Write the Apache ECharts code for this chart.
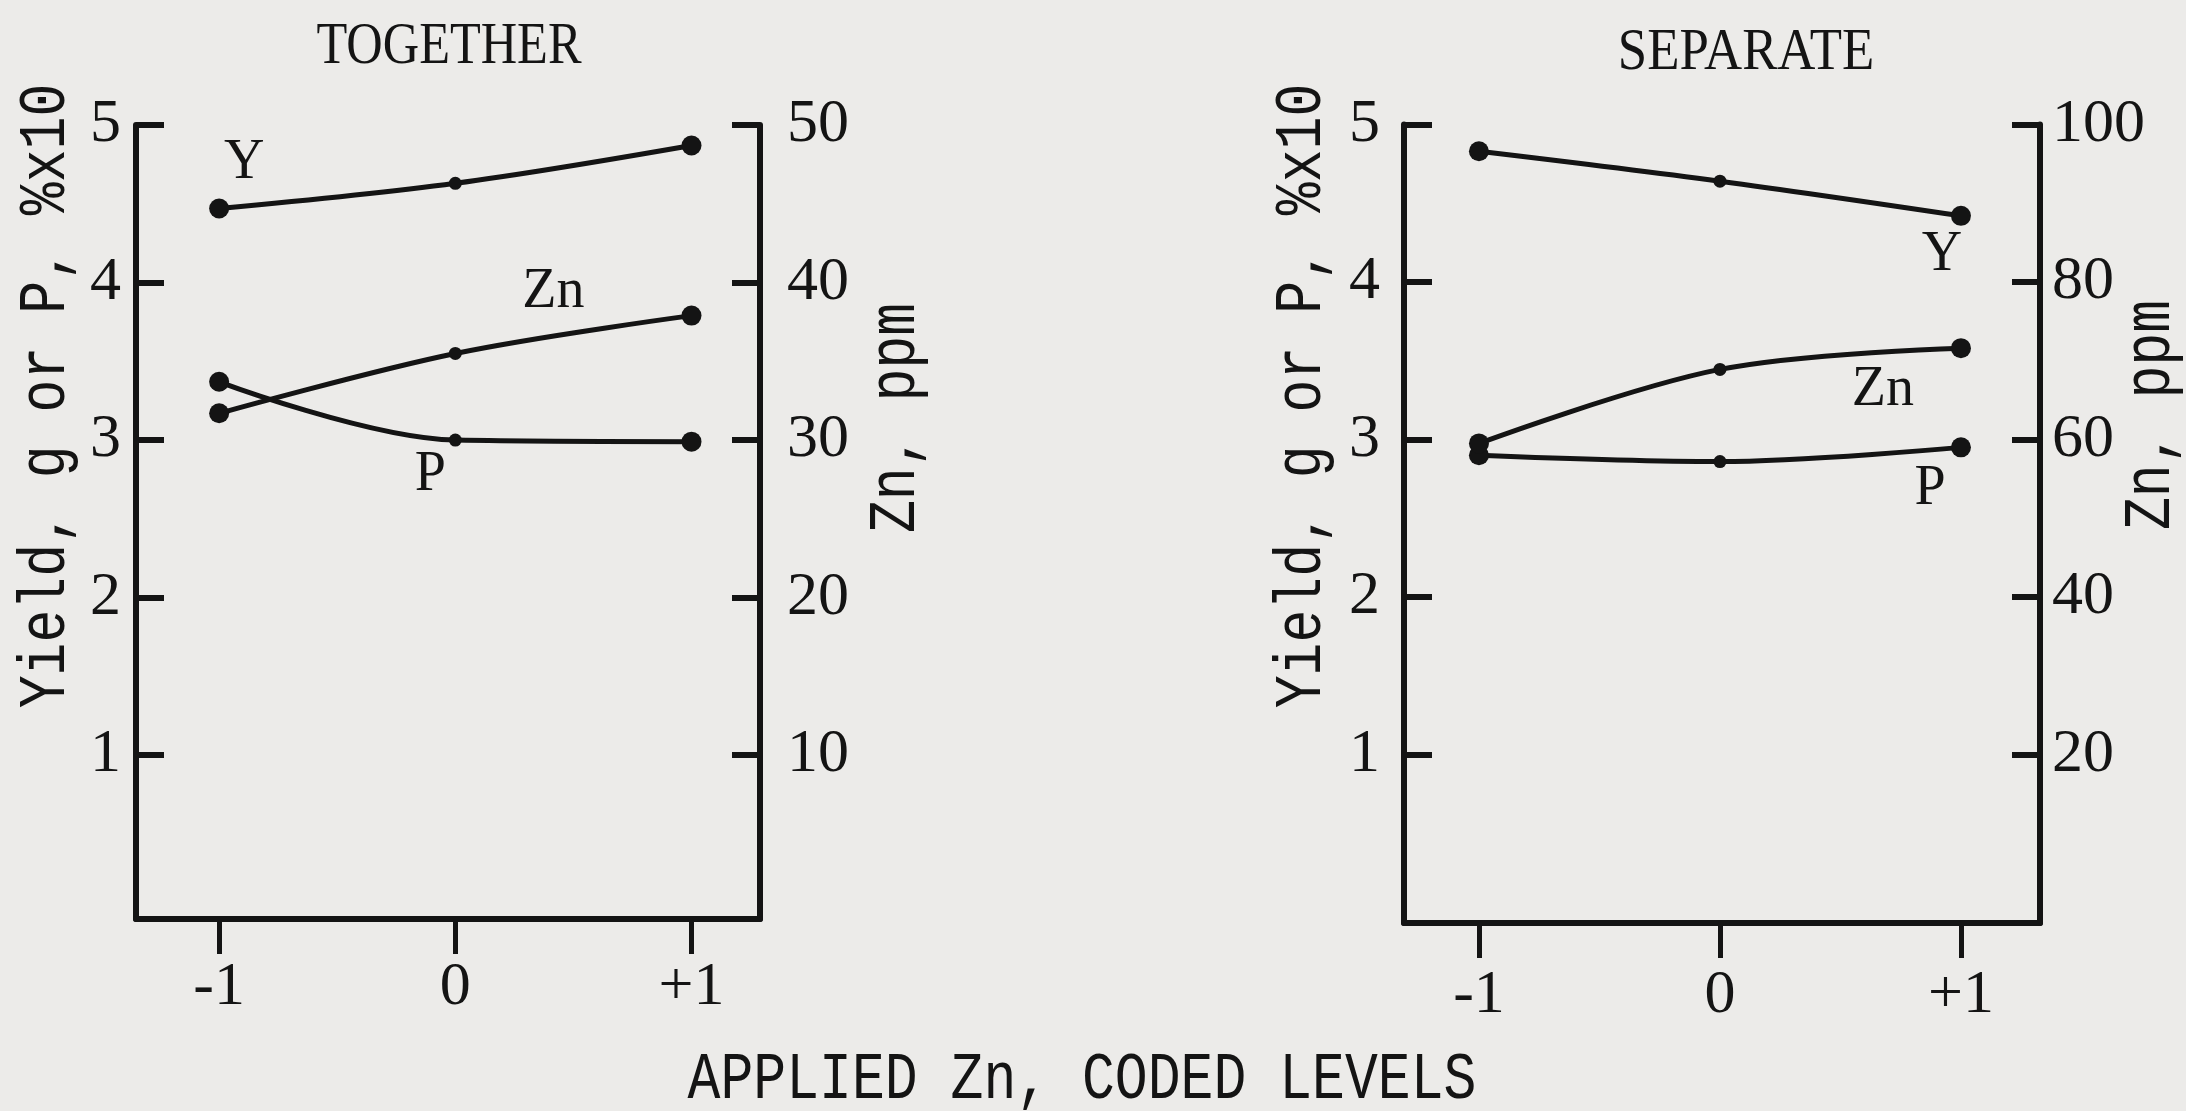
<!DOCTYPE html>
<html>
<head>
<meta charset="utf-8">
<script src="https://cdn.jsdelivr.net/npm/echarts@6/dist/echarts.min.js"></script>
<style>
html,body{margin:0;padding:0;background:#ecebe9;}
#chart{width:2186px;height:1111px;}
</style>
</head>
<body>
<div id="chart"></div>
<script>
// ---- data ----
const levels = [-1, 0, 1];
const levelLabels = ['-1', '0', '+1'];
const leftTicks = [1, 2, 3, 4, 5];
const togetherZnTicks = [10, 20, 30, 40, 50];
const separateZnTicks = [20, 40, 60, 80, 100];

// TOGETHER panel
const togetherYield = [4.47, 4.63, 4.87];   // Yield, g (left axis)
const togetherP = [3.37, 3.00, 2.99];       // P, %x10 (left axis)
const togetherZn = [31.7, 35.5, 37.9];      // Zn, ppm (right axis)

// SEPARATE panel
const separateYield = [4.83, 4.64, 4.42];
const separateP = [2.90, 2.86, 2.95];
const separateZn = [59.5, 68.9, 71.6];

const panelTitles = ['TOGETHER', 'SEPARATE'];
const leftAxisName = 'Yield, g or P, %x10';
const rightAxisName = 'Zn, ppm';
const xAxisName = 'APPLIED Zn, CODED LEVELS';

// ---- styling ----
const INK = '#141414';
const BG = '#ecebe9';
const MONO = '"Liberation Mono", "DejaVu Sans Mono", monospace';
const SERIF = '"Liberation Serif", "DejaVu Serif", serif';

function pts(vals) { return levels.map((x, i) => [x, vals[i]]); }
function withLabel(data, idx, text, dx, dy) {
  data[idx] = {
    value: data[idx],
    label: { show: true, formatter: text, position: 'inside', offset: [dx, dy],
             fontFamily: SERIF, fontSize: 56, color: INK }
  };
  return data;
}
const symSize = (v, p) => (p.dataIndex === 1 ? 13 : 20);
function lineSeries(name, xi, yi, data) {
  return {
    name, type: 'line', xAxisIndex: xi, yAxisIndex: yi, data,
    smooth: 0.35, symbol: 'circle', symbolSize: symSize,
    lineStyle: { color: INK, width: 5 },
    itemStyle: { color: INK },
    label: { show: false }, z: 5
  };
}

function yAxisCfg(grid, pos, min, max, ticks, margin, lift) {
  return {
    type: 'value', gridIndex: grid, position: pos, min, max,
    axisLine: { show: true, onZero: false, lineStyle: { color: INK, width: 6 } },
    axisTick: { show: true, inside: true, length: 28, lineStyle: { color: INK, width: 6 }, customValues: ticks },
    axisLabel: { show: true, customValues: ticks, margin, fontFamily: SERIF, fontSize: 62, color: INK,
                 padding: [0, 0, lift, 0] },
    splitLine: { show: false }
  };
}
function xAxisCfg(grid, min, max, margin) {
  return {
    type: 'value', gridIndex: grid, min, max,
    axisLine: { show: true, onZero: false, lineStyle: { color: INK, width: 6 } },
    axisTick: { show: true, inside: false, length: 35, lineStyle: { color: INK, width: 5 }, customValues: levels },
    axisLabel: { show: true, customValues: levels, margin, fontFamily: SERIF, fontSize: 62, color: INK,
                 formatter: v => levelLabels[levels.indexOf(v)] },
    splitLine: { show: false }
  };
}
function vText(text, x, y) {
  return { type: 'text', x, y, rotation: Math.PI / 2, scaleX: 0.83, scaleY: 1,
    style: { text, font: '66px ' + MONO, fill: INK, align: 'center', verticalAlign: 'middle' } };
}
function hText(text, x, y, font, sx) {
  return { type: 'text', x, y, scaleX: sx, scaleY: 1,
    style: { text, font, fill: INK, align: 'center', verticalAlign: 'middle' } };
}

const chart = echarts.init(document.getElementById('chart'), null, { renderer: 'canvas' });
chart.setOption({
  backgroundColor: BG,
  animation: false,
  grid: [
    { left: 136, top: 125, width: 624, height: 794 },
    { left: 1404, top: 124.5, width: 636, height: 798.5 }
  ],
  xAxis: [ xAxisCfg(0, -1.352, 1.29, 38), xAxisCfg(1, -1.311, 1.328, 42) ],
  yAxis: [
    yAxisCfg(0, 'left', -0.04, 5, leftTicks, 15, 0),
    yAxisCfg(0, 'right', -0.4, 50, togetherZnTicks, 27, 0),
    yAxisCfg(1, 'left', -0.07, 5, leftTicks, 24, 20),
    yAxisCfg(1, 'right', -1.4, 100, separateZnTicks, 12, 20)
  ],
  series: [
    lineSeries('Y', 0, 0, withLabel(pts(togetherYield), 0, 'Y', 25, -45)),
    lineSeries('P', 0, 0, withLabel(pts(togetherP), 1, 'P', -25, 35)),
    lineSeries('Zn', 0, 1, withLabel(pts(togetherZn), 1, 'Zn', 98, -61)),
    lineSeries('Y', 1, 2, withLabel(pts(separateYield), 2, 'Y', -19, 39)),
    lineSeries('P', 1, 2, withLabel(pts(separateP), 2, 'P', -31, 42)),
    lineSeries('Zn', 1, 3, withLabel(pts(separateZn), 2, 'Zn', -78, 42))
  ],
  graphic: [
    hText(panelTitles[0], 449, 47, '60px ' + SERIF, 0.84),
    hText(panelTitles[1], 1746, 53, '60px ' + SERIF, 0.88),
    vText(leftAxisName, 47, 396),
    vText(rightAxisName, 897, 418),
    vText(leftAxisName, 1303, 396),
    vText(rightAxisName, 2152, 415),
    hText(xAxisName, 1082, 1081, '66px ' + MONO, 0.83)
  ]
});
</script>
</body>
</html>
